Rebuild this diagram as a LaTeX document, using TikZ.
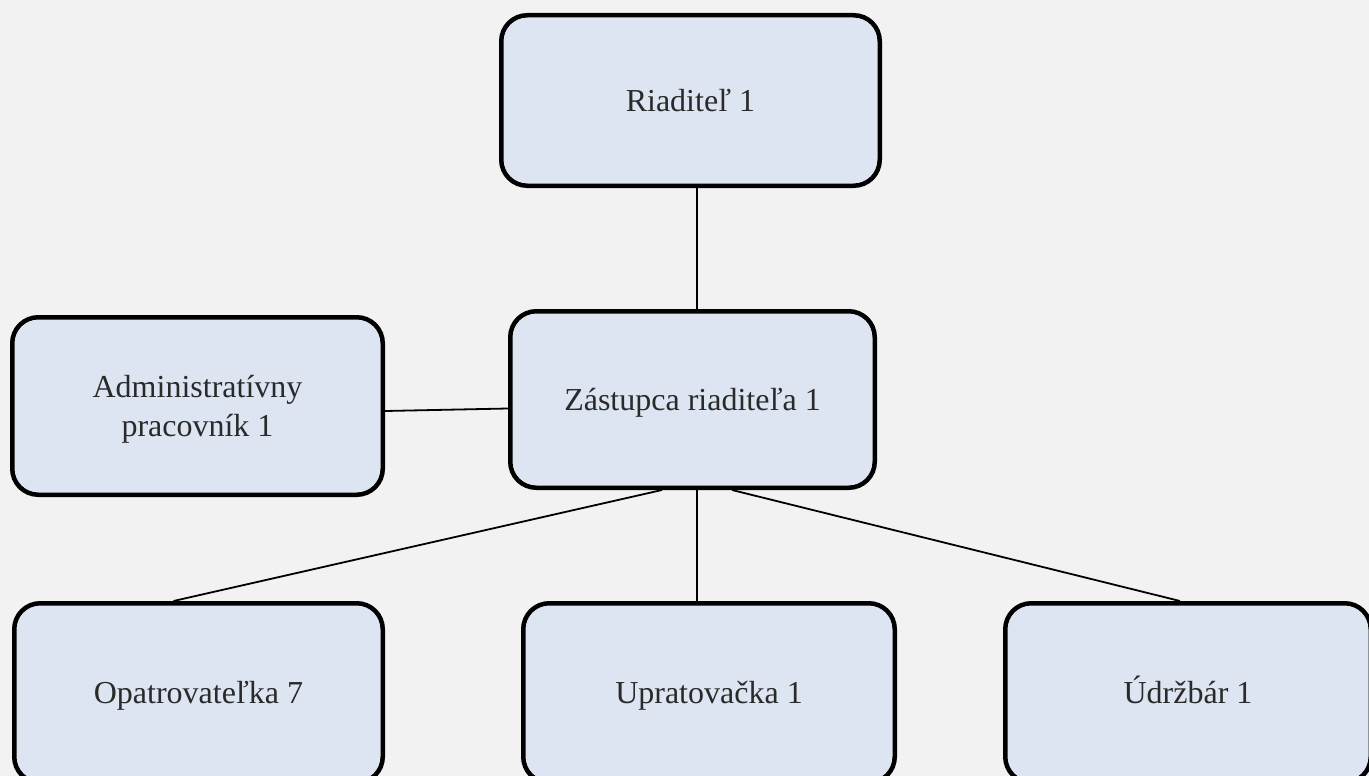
\documentclass[tikz,border=0pt]{standalone}
\usepackage{fontspec}
\setmainfont{Liberation Serif}
\definecolor{boxfill}{HTML}{DCE5F1}
\definecolor{pagebg}{HTML}{F2F2F2}
\definecolor{boxtext}{HTML}{2A2A2A}
\begin{document}
\begin{tikzpicture}[x=1pt,y=-1pt,
	box/.style={draw=black,line width=4.5pt,rounded corners=26pt,fill=boxfill,text=boxtext,align=center,inner sep=0pt,font=\fontsize{32}{39}\selectfont,text height=21pt,text depth=0pt},
	twolines/.style={text height=60pt},
	link/.style={line width=1.8pt}]
	\fill[pagebg] (0,0) rectangle (1369,776);
	\useasboundingbox (0,0) rectangle (1369,776);
	% boxes
	\node[box,minimum width=378.5pt,minimum height=170.5pt] (rd) at (690.5,100.5) {Riaditeľ 1};
	\node[box,minimum width=364.5pt,minimum height=176.5pt] (zr) at (692.5,399.5) {Zástupca riaditeľa 1};
	\node[box,twolines,minimum width=370.5pt,minimum height=177.5pt] (adm) at (197.5,406) {Administratívny\\pracovník 1};
	\node[box,minimum width=368.5pt,minimum height=179.5pt] (opa) at (198.5,693) {Opatrovateľka 7};
	\node[box,minimum width=371.5pt,minimum height=179.5pt] (upr) at (709,693) {Upratovačka 1};
	\node[box,minimum width=365.5pt,minimum height=179.5pt] (udr) at (1188,693) {Údržbár 1};
	% links
	\draw[link] ([xshift=6.5pt]rd.south)--([xshift=4.5pt]zr.north);
	\draw[link] ([yshift=-5pt]adm.east)--([yshift=-9pt]zr.west);
	\draw[link] ([xshift=-30.5pt]zr.south)--([xshift=-25pt]opa.north);
	\draw[link] ([xshift=4.5pt]zr.south)--([xshift=-12pt]upr.north);
	\draw[link] ([xshift=39.5pt]zr.south)--([xshift=-8pt]udr.north);
\end{tikzpicture}
\end{document}
